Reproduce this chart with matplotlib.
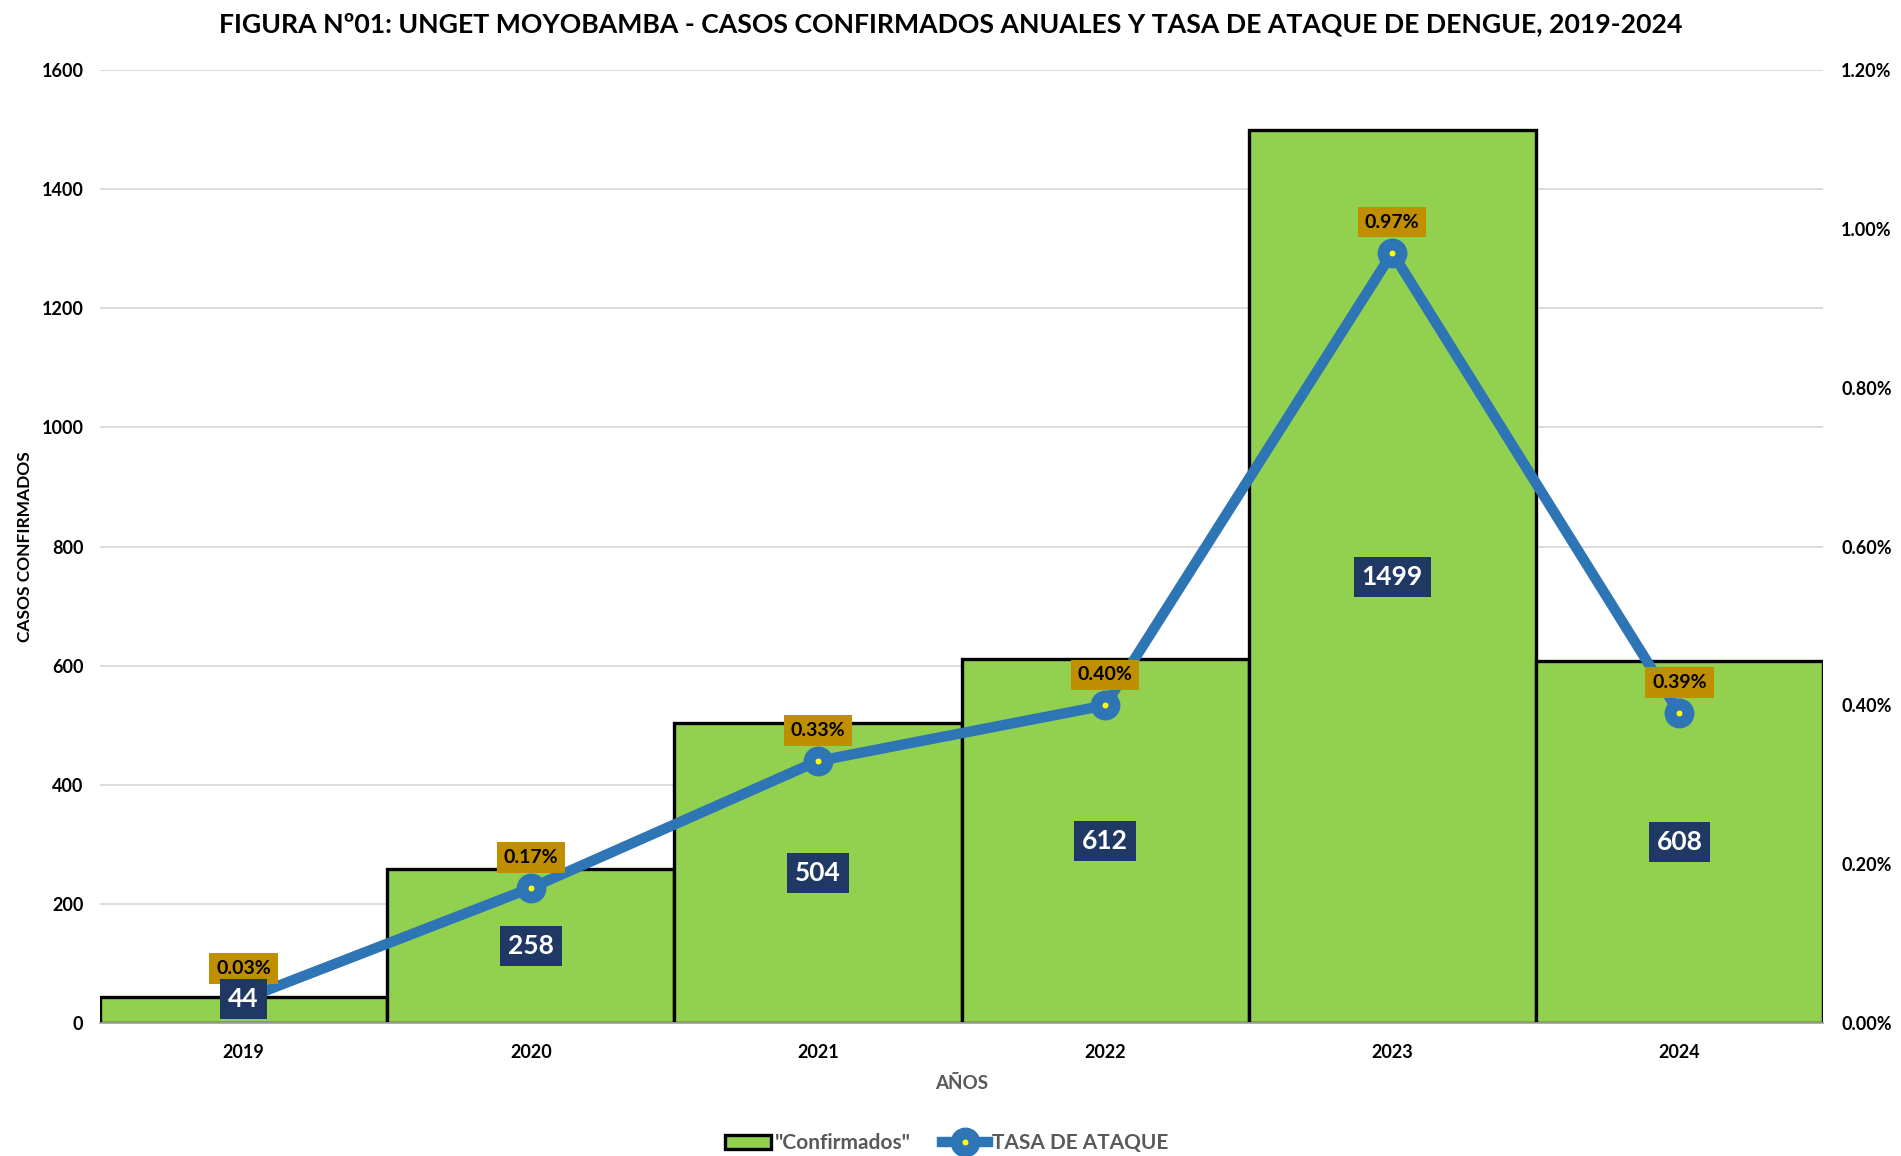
import matplotlib.pyplot as plt
from matplotlib.patches import Patch
from matplotlib.lines import Line2D
from matplotlib.ticker import FuncFormatter

plt.rcParams['font.family'] = ['Lato', 'DejaVu Sans']

years = ['2019', '2020', '2021', '2022', '2023', '2024']
confirmados = [44, 258, 504, 612, 1499, 608]
tasa = [0.03, 0.17, 0.33, 0.40, 0.97, 0.39]  # percent

green = '#92D050'
blue = '#2E75B6'
navy = '#1F3864'
gold = '#BF8F00'

fig = plt.figure(figsize=(19.01, 11.56), dpi=100)
ax = fig.add_axes([0.0526, 0.115, 0.9064, 0.8244])
x = list(range(len(years)))

ax.bar(x, confirmados, width=1.0, color=green, edgecolor='black', linewidth=2.4, zorder=2)
ax.set_xlim(-0.5, len(years) - 0.5)
ax.set_ylim(0, 1600)
ax.set_yticks(range(0, 1601, 200))
ax.yaxis.grid(True, color='#D9D9D9', linewidth=1.3, zorder=0)
ax.set_axisbelow(True)
for s in ['top', 'right', 'left']:
    ax.spines[s].set_visible(False)
ax.spines['bottom'].set_color('#A6A6A6')
ax.spines['bottom'].set_linewidth(1.3)
ax.tick_params(axis='y', length=0, labelsize=13, pad=12)
ax.tick_params(axis='x', length=0, labelsize=13, pad=15)
ax.set_xticks(x)
ax.set_xticklabels(years, fontweight='bold')
for lbl in ax.get_yticklabels():
    lbl.set_fontweight('bold')
ax.set_xlabel('AÑOS', fontsize=13.5, fontweight='bold', color='#595959', labelpad=10)
ax.set_ylabel('CASOS CONFIRMADOS', fontsize=12.5, fontweight='bold')
ax.yaxis.set_label_coords(-0.039, 0.5)

ax2 = ax.twinx()
ax2.set_ylim(0, 1.2)
ax2.set_yticks([0, 0.2, 0.4, 0.6, 0.8, 1.0, 1.2])
ax2.yaxis.set_major_formatter(FuncFormatter(lambda v, p: f'{v:.2f}%'))
for s in ['top', 'right', 'left', 'bottom']:
    ax2.spines[s].set_visible(False)
ax2.tick_params(axis='y', length=0, labelsize=13, pad=13)
for lbl in ax2.get_yticklabels():
    lbl.set_fontweight('bold')

ax2.plot(x, tasa, color=blue, linewidth=7.5, marker='o', markersize=13,
         markerfacecolor='yellow', markeredgecolor=blue, markeredgewidth=8.5,
         solid_capstyle='round', zorder=3)

for xi, t in zip(x, tasa):
    ax2.annotate(f'{t:.2f}%', (xi, t), xytext=(0, 22), textcoords='offset points',
                 ha='center', va='center', fontsize=14, fontweight='bold', color='black',
                 bbox=dict(boxstyle='square,pad=0.35', facecolor=gold, edgecolor='none'),
                 zorder=5)

for xi, v in zip(x, confirmados):
    ax2.text(xi, max(v / 2, 40), str(v), transform=ax.transData, ha='center', va='center',
             fontsize=19, fontweight='bold', color='white',
             bbox=dict(boxstyle='square,pad=0.3', facecolor=navy, edgecolor='none'),
             zorder=6)

fig.text(0.5, 0.979, 'FIGURA Nº01: UNGET MOYOBAMBA - CASOS CONFIRMADOS ANUALES Y TASA DE ATAQUE DE DENGUE, 2019-2024',
         ha='center', va='center', fontsize=19.2, fontweight='bold')

handles = [Patch(facecolor=green, edgecolor='black', linewidth=2.4),
           Line2D([0], [0], color=blue, linewidth=7.5, marker='o', markersize=13,
                  markerfacecolor='yellow', markeredgecolor=blue, markeredgewidth=8.5)]
leg = fig.legend(handles, ['"Confirmados"', 'TASA DE ATAQUE'], loc='center',
                 bbox_to_anchor=(0.498, 0.011), ncol=2, frameon=False,
                 prop={'size': 15, 'weight': 'bold'}, handlelength=2.2,
                 columnspacing=1.5, handletextpad=0.2)
for t in leg.get_texts():
    t.set_color('#595959')

fig.savefig('out.png', dpi=100)
